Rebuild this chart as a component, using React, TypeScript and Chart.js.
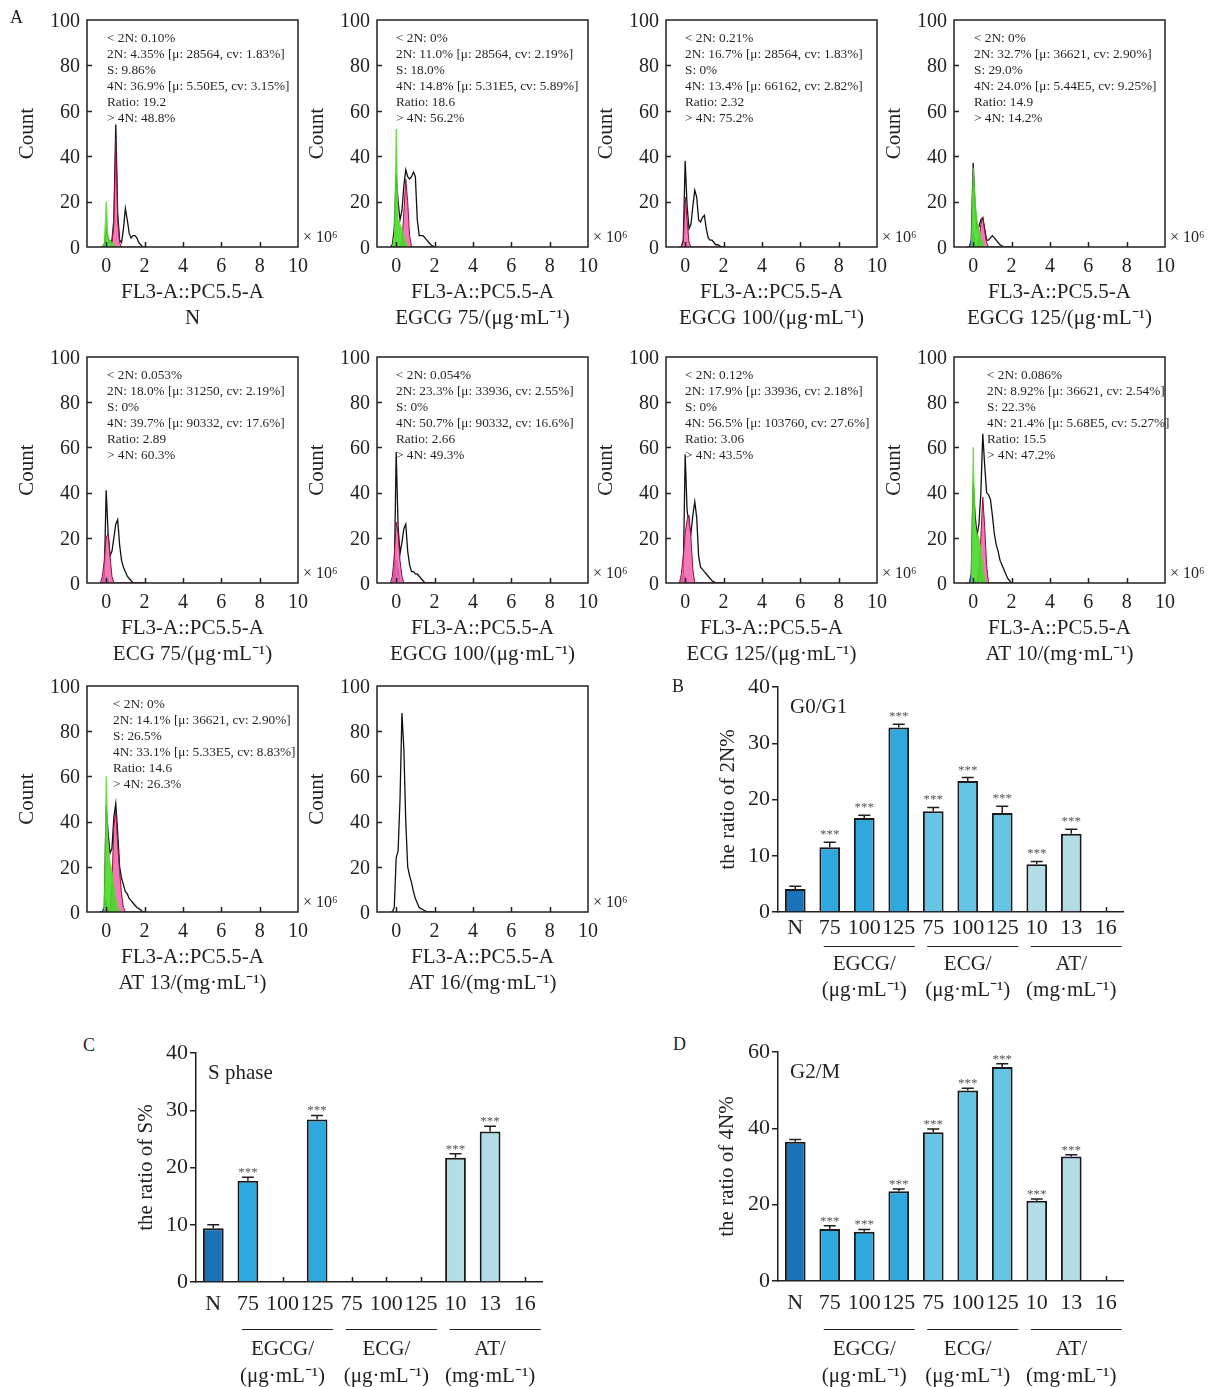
import React, { useEffect, useRef } from "react";
import { Chart, registerables } from "chart.js";

Chart.register(...registerables);

const SERIF = "'Liberation Serif', 'Times New Roman', Times, serif";
const INK = "#231f20";

// ---------------- histogram data (x in 10^6 units) ----------------
const HIST_BINS = [-0.3, -0.2, -0.1, 0, 0.1, 0.2, 0.3, 0.4, 0.5, 0.6, 0.7, 0.8, 0.9, 1.0, 1.1, 1.2, 1.3, 1.4, 1.5, 1.6, 1.7, 1.8, 1.9, 2.0];
const HIST_X_TICKS = [0, 2, 4, 6, 8, 10];
const HIST_Y_TICKS = [0, 20, 40, 60, 80, 100];
const HIST_X_TITLE = "FL3-A::PC5.5-A";

const N_TOTAL = [0, 0, 1, 7, 4, 2, 3, 12, 54, 15, 3, 2, 8, 17, 12, 6, 4, 5, 5, 4, 2, 1, 0, 0];
const N_GREEN = [0, 0, 2, 20, 4, 3, 2, 1, 0, 0, 0, 0, 0, 0, 0, 0, 0, 0, 0, 0, 0, 0, 0, 0];
const N_PINK = [0, 0, 0, 0, 0, 0, 2, 10, 48, 12, 2, 0, 0, 0, 0, 0, 0, 0, 0, 0, 0, 0, 0, 0];
const N_STATS = ["< 2N: 0.10%", "2N: 4.35% [μ: 28564, cv: 1.83%]", "S: 9.86%", "4N: 36.9% [μ: 5.50E5, cv: 3.15%]", "Ratio: 19.2", "> 4N: 48.8%"];

const EGCG75_TOTAL = [0, 1, 8, 32, 20, 12, 16, 27, 34, 31, 30, 31, 33, 31, 12, 5, 5, 5, 4, 3, 2, 1, 0.5, 0];
const EGCG75_GREEN = [0, 0, 5, 52, 12, 10, 8, 5, 2, 0, 0, 0, 0, 0, 0, 0, 0, 0, 0, 0, 0, 0, 0, 0];
const EGCG75_PINK = [0, 0, 0, 0, 0, 0, 2, 15, 30, 20, 5, 0, 0, 0, 0, 0, 0, 0, 0, 0, 0, 0, 0, 0];
const EGCG75_STATS = ["< 2N: 0%", "2N: 11.0% [μ: 28564, cv: 2.19%]", "S: 18.0%", "4N: 14.8% [μ: 5.31E5, cv: 5.89%]", "Ratio: 18.6", "> 4N: 56.2%"];

const EGCG100_TOTAL = [0, 0, 3, 38, 18, 8, 10, 18, 25, 22, 12, 11, 13, 14, 8, 4, 3, 3, 2, 1, 1, 0.5, 0, 0];
const EGCG100_PINK = [0, 0, 2, 22, 12, 2, 0, 0, 0, 0, 0, 0, 0, 0, 0, 0, 0, 0, 0, 0, 0, 0, 0, 0];
const EGCG100_STATS = ["< 2N: 0.21%", "2N: 16.7% [μ: 28564, cv: 1.83%]", "S: 0%", "4N: 13.4% [μ: 66162, cv: 2.82%]", "Ratio: 2.32", "> 4N: 75.2%"];

const EGCG125_TOTAL = [0, 0, 3, 37, 18, 8, 9, 12, 13, 8, 3, 3, 4, 5, 4, 3, 2, 1, 0.5, 0, 0, 0, 0, 0];
const EGCG125_GREEN = [0, 0, 0, 35, 20, 12, 8, 4, 2, 0, 0, 0, 0, 0, 0, 0, 0, 0, 0, 0, 0, 0, 0, 0];
const EGCG125_PINK = [0, 0, 0, 0, 0, 0, 3, 10, 13, 7, 2, 0, 0, 0, 0, 0, 0, 0, 0, 0, 0, 0, 0, 0];
const EGCG125_BLUE = [0, 0, 3, 6, 0, 0, 0, 0, 0, 0, 0, 0, 0, 0, 0, 0, 0, 0, 0, 0, 0, 0, 0, 0];
const EGCG125_STATS = ["< 2N: 0%", "2N: 32.7% [μ: 36621, cv: 2.90%]", "S: 29.0%", "4N: 24.0% [μ: 5.44E5, cv: 9.25%]", "Ratio: 14.9", "> 4N: 14.2%"];

const ECG75_TOTAL = [0, 0, 3, 41, 22, 12, 14, 20, 26, 28, 17, 10, 7, 5, 3, 2, 1, 0, 0, 0, 0, 0, 0, 0];
const ECG75_PINK = [0, 3, 10, 20, 22, 12, 3, 0, 0, 0, 0, 0, 0, 0, 0, 0, 0, 0, 0, 0, 0, 0, 0, 0];
const ECG75_BLUE = [0, 0, 1, 3, 1, 0, 0, 0, 0, 0, 0, 0, 0, 0, 0, 0, 0, 0, 0, 0, 0, 0, 0, 0];
const ECG75_STATS = ["< 2N: 0.053%", "2N: 18.0% [μ: 31250, cv: 2.19%]", "S: 0%", "4N: 39.7% [μ: 90332, cv: 17.6%]", "Ratio: 2.89", "> 4N: 60.3%"];

const EGCG100B_TOTAL = [0, 0, 3, 58, 25, 13, 18, 24, 26, 14, 8, 5, 5, 4, 4, 3, 2, 1, 0, 0, 0, 0, 0, 0];
const EGCG100B_PINK = [0, 3, 12, 27, 22, 10, 3, 0, 0, 0, 0, 0, 0, 0, 0, 0, 0, 0, 0, 0, 0, 0, 0, 0];
const EGCG100B_BLUE = [0, 0, 5, 10, 6, 0, 0, 0, 0, 0, 0, 0, 0, 0, 0, 0, 0, 0, 0, 0, 0, 0, 0, 0];
const EGCG100B_STATS = ["< 2N: 0.054%", "2N: 23.3% [μ: 33936, cv: 2.55%]", "S: 0%", "4N: 50.7% [μ: 90332, cv: 16.6%]", "Ratio: 2.66", "> 4N: 49.3%"];

const ECG125_TOTAL = [0, 0, 3, 57, 32, 26, 22, 30, 36, 29, 12, 7, 6, 5, 4, 3, 2, 1, 0.5, 0, 0, 0, 0, 0];
const ECG125_PINK = [0, 4, 12, 22, 28, 30, 20, 6, 0, 0, 0, 0, 0, 0, 0, 0, 0, 0, 0, 0, 0, 0, 0, 0];
const ECG125_BLUE = [0, 0, 0, 3, 0, 0, 0, 0, 0, 0, 0, 0, 0, 0, 0, 0, 0, 0, 0, 0, 0, 0, 0, 0];
const ECG125_STATS = ["< 2N: 0.12%", "2N: 17.9% [μ: 33936, cv: 2.18%]", "S: 0%", "4N: 56.5% [μ: 103760, cv: 27.6%]", "Ratio: 3.06", "> 4N: 43.5%"];

const AT10_TOTAL = [0, 0, 4, 44, 30, 21, 26, 40, 66, 52, 40, 39, 37, 30, 22, 17, 14, 10, 8, 6, 4, 2, 1, 0];
const AT10_GREEN = [0, 0, 0, 60, 25, 22, 20, 15, 8, 2, 0, 0, 0, 0, 0, 0, 0, 0, 0, 0, 0, 0, 0, 0];
const AT10_PINK = [0, 0, 0, 0, 0, 0, 5, 20, 38, 25, 8, 0, 0, 0, 0, 0, 0, 0, 0, 0, 0, 0, 0, 0];
const AT10_BLUE = [0, 0, 3, 2, 0, 0, 0, 0, 0, 0, 0, 0, 0, 0, 0, 0, 0, 0, 0, 0, 0, 0, 0, 0];
const AT10_STATS = ["< 2N: 0.086%", "2N: 8.92% [μ: 36621, cv: 2.54%]", "S: 22.3%", "4N: 21.4% [μ: 5.68E5, cv: 5.27%]", "Ratio: 15.5", "> 4N: 47.2%"];

const AT13_TOTAL = [0, 0, 2, 47, 35, 26, 28, 42, 48, 35, 20, 15, 12, 9, 8, 6, 5, 4, 3, 2, 1.5, 1, 0, 0];
const AT13_GREEN = [0, 0, 0, 60, 30, 22, 18, 12, 6, 2, 0, 0, 0, 0, 0, 0, 0, 0, 0, 0, 0, 0, 0, 0];
const AT13_PINK = [0, 0, 0, 0, 0, 2, 12, 38, 45, 30, 18, 8, 2, 0, 0, 0, 0, 0, 0, 0, 0, 0, 0, 0];
const AT13_BLUE = [0, 0, 2, 5, 0, 0, 0, 0, 0, 0, 0, 0, 0, 0, 0, 0, 0, 0, 0, 0, 0, 0, 0, 0];
const AT13_STATS = ["< 2N: 0%", "2N: 14.1% [μ: 36621, cv: 2.90%]", "S: 26.5%", "4N: 33.1% [μ: 5.33E5, cv: 8.83%]", "Ratio: 14.6", "> 4N: 26.3%"];

const AT16_TOTAL = [0, 0, 2, 24, 27, 50, 88, 72, 40, 20, 16, 13, 9, 6, 4, 2, 1.5, 1, 0.5, 0, 0, 0, 0, 0];

const HIST_PANELS = [
  { subtitle: "N", total: N_TOTAL, green: N_GREEN, pink: N_PINK, blue: null, stats: N_STATS },
  { subtitle: "EGCG 75/(μg·mL⁻¹)", total: EGCG75_TOTAL, green: EGCG75_GREEN, pink: EGCG75_PINK, blue: null, stats: EGCG75_STATS },
  { subtitle: "EGCG 100/(μg·mL⁻¹)", total: EGCG100_TOTAL, green: null, pink: EGCG100_PINK, blue: null, stats: EGCG100_STATS },
  { subtitle: "EGCG 125/(μg·mL⁻¹)", total: EGCG125_TOTAL, green: EGCG125_GREEN, pink: EGCG125_PINK, blue: EGCG125_BLUE, stats: EGCG125_STATS },
  { subtitle: "ECG 75/(μg·mL⁻¹)", total: ECG75_TOTAL, green: null, pink: ECG75_PINK, blue: ECG75_BLUE, stats: ECG75_STATS },
  { subtitle: "EGCG 100/(μg·mL⁻¹)", total: EGCG100B_TOTAL, green: null, pink: EGCG100B_PINK, blue: EGCG100B_BLUE, stats: EGCG100B_STATS },
  { subtitle: "ECG 125/(μg·mL⁻¹)", total: ECG125_TOTAL, green: null, pink: ECG125_PINK, blue: ECG125_BLUE, stats: ECG125_STATS },
  { subtitle: "AT 10/(mg·mL⁻¹)", total: AT10_TOTAL, green: AT10_GREEN, pink: AT10_PINK, blue: AT10_BLUE, stats: AT10_STATS },
  { subtitle: "AT 13/(mg·mL⁻¹)", total: AT13_TOTAL, green: AT13_GREEN, pink: AT13_PINK, blue: AT13_BLUE, stats: AT13_STATS },
  { subtitle: "AT 16/(mg·mL⁻¹)", total: AT16_TOTAL, green: null, pink: null, blue: null, stats: [] },
];

// ---------------- bar chart data ----------------
const CATEGORIES = ["N", "75", "100", "125", "75", "100", "125", "10", "13", "16"];
const G0G1_MEAN = [4.1, 11.5, 16.7, 32.8, 17.9, 23.3, 17.6, 8.5, 13.9, 0];
const G0G1_ERR = [0.5, 0.9, 0.5, 0.6, 0.7, 0.6, 1.2, 0.5, 0.8, 0];
const G0G1_SIG = [0, 1, 1, 1, 1, 1, 1, 1, 1, 0];
const S_MEAN = [9.4, 17.7, 0, 28.4, 0, 0, 0, 21.7, 26.3, 0];
const S_ERR = [0.6, 0.6, 0, 0.7, 0, 0, 0, 0.7, 0.9, 0];
const S_SIG = [0, 1, 0, 1, 0, 0, 0, 1, 1, 0];
const G2M_MEAN = [36.5, 13.6, 12.9, 23.5, 39.0, 49.9, 56.1, 21.0, 32.6, 0];
const G2M_ERR = [0.6, 0.9, 0.6, 0.6, 0.8, 0.6, 0.8, 0.5, 0.5, 0];
const G2M_SIG = [0, 1, 1, 1, 1, 1, 1, 1, 1, 0];
const GROUP_NAMES = ["EGCG/", "ECG/", "AT/"];
const GROUP_UNITS = ["(μg·mL⁻¹)", "(μg·mL⁻¹)", "(mg·mL⁻¹)"];
const GROUP_FIRST = [1, 4, 7];
const GROUP_LAST = [3, 6, 9];

// ---------------- styles / layout ----------------
const BAR_FILLS = ["#1a73b9", "#2fa8e0", "#2fa8e0", "#2fa8e0", "#66c4e5", "#66c4e5", "#66c4e5", "#b2dde7", "#b2dde7", "#b2dde7"];
const HIST_BOX_W = 211;
const HIST_LAYOUT = [
  { left: 87, top: 20, h: 227, dx: 20 },
  { left: 377, top: 20, h: 227, dx: 19 },
  { left: 666, top: 20, h: 227, dx: 19 },
  { left: 954, top: 20, h: 227, dx: 20 },
  { left: 87, top: 357, h: 226, dx: 20 },
  { left: 377, top: 357, h: 226, dx: 19 },
  { left: 666, top: 357, h: 226, dx: 19 },
  { left: 954, top: 357, h: 226, dx: 33 },
  { left: 87, top: 686, h: 226, dx: 26 },
  { left: 377, top: 686, h: 226, dx: 0 },
];
const HIST_Y_W = 72;
const HIST_PAD_TOP = 14;
const HIST_PAD_RIGHT = 50;
const HIST_X_H = 85;

const BAR_SPECS = [
  { key: "B", mean: G0G1_MEAN, err: G0G1_ERR, sig: G0G1_SIG, yMax: 40, yStep: 10, yTitle: "the ratio of 2N%", phase: "G0/G1", starDy: 4,
    left: 700, top: 670, width: 440, height: 340, padLeft: 15.5, padTop: 17, padRight: 17, yWidth: 62.5, xHeight: 98, labelPad: 3, lineDy: 34, g1Dy: 52, g2Dy: 78 },
  { key: "C", mean: S_MEAN, err: S_ERR, sig: S_SIG, yMax: 40, yStep: 10, yTitle: "the ratio of S%", phase: "S phase", starDy: 1,
    left: 120, top: 1035, width: 440, height: 352, padLeft: 13.5, padTop: 18, padRight: 18, yWidth: 62.5, xHeight: 105, labelPad: 9, lineDy: 47, g1Dy: 67, g2Dy: 94 },
  { key: "D", mean: G2M_MEAN, err: G2M_ERR, sig: G2M_SIG, yMax: 60, yStep: 20, yTitle: "the ratio of 4N%", phase: "G2/M", starDy: 1,
    left: 700, top: 1035, width: 440, height: 352, padLeft: 14.5, padTop: 17, padRight: 17, yWidth: 63.5, xHeight: 106, labelPad: 9, lineDy: 48, g1Dy: 68, g2Dy: 95 },
];

const LETTERS = [
  { t: "A", left: 10, top: 6 },
  { t: "B", left: 672, top: 675 },
  { t: "C", left: 83, top: 1034 },
  { t: "D", left: 673, top: 1033 },
];

// ---------------- histogram chart ----------------
function makeHistDecor(lines: string[], dx: number) {
  return {
    id: "histDecor",
    afterDraw(chart: any) {
      const { ctx, chartArea: a, scales } = chart;
      ctx.save();
      ctx.strokeStyle = INK;
      ctx.lineWidth = 1.5;
      ctx.strokeRect(a.left, a.top, a.right - a.left, a.bottom - a.top);
      ctx.beginPath();
      HIST_Y_TICKS.slice(1, -1).forEach((v) => {
        const y = Math.round(scales.y.getPixelForValue(v)) + 0.5;
        ctx.moveTo(a.left, y);
        ctx.lineTo(a.left + 5, y);
      });
      HIST_X_TICKS.slice(0, -1).forEach((v) => {
        const x = Math.round(scales.x.getPixelForValue(v)) + 0.5;
        ctx.moveTo(x, a.bottom);
        ctx.lineTo(x, a.bottom - 5);
      });
      ctx.stroke();
      ctx.fillStyle = INK;
      ctx.textAlign = "left";
      ctx.textBaseline = "middle";
      ctx.font = `13.3px ${SERIF}`;
      lines.forEach((t, i) => ctx.fillText(t, a.left + dx, a.top + 19 + i * 16));
      ctx.font = `16px ${SERIF}`;
      ctx.fillText("× 10⁶", a.right + 5, a.bottom - 9);
      ctx.restore();
    },
  };
}

function histConfig(p: any, lay: any) {
  const pts = (arr: number[]) => HIST_BINS.map((x, i) => ({ x, y: arr[i] }));
  const datasets: any[] = [];
  if (p.green) datasets.push({ data: pts(p.green), borderColor: "#5fd83a", borderWidth: 0.8, backgroundColor: "rgba(70,218,40,0.9)", fill: "origin", pointRadius: 0, tension: 0 });
  if (p.pink) datasets.push({ data: pts(p.pink), borderColor: "#8e1238", borderWidth: 1, backgroundColor: "rgba(240,96,172,0.85)", fill: "origin", pointRadius: 0, tension: 0 });
  if (p.blue) datasets.push({ data: pts(p.blue), borderColor: "#2a2fd0", borderWidth: 1, backgroundColor: "rgba(110,70,230,0.75)", fill: "origin", pointRadius: 0, tension: 0 });
  datasets.push({ data: pts(p.total), borderColor: "#111", borderWidth: 1.3, fill: false, pointRadius: 0, tension: 0 });
  return {
    type: "line",
    data: { datasets },
    options: {
      responsive: false,
      animation: false,
      devicePixelRatio: 1,
      layout: { padding: { left: 0, top: HIST_PAD_TOP, right: HIST_PAD_RIGHT, bottom: 0 } },
      plugins: { legend: { display: false }, tooltip: { enabled: false } },
      scales: {
        x: {
          type: "linear",
          min: -1,
          max: 10,
          afterBuildTicks: (s: any) => { s.ticks = HIST_X_TICKS.map((v) => ({ value: v })); },
          afterFit: (s: any) => { s.height = HIST_X_H; s.paddingLeft = 0; s.paddingRight = 0; },
          grid: { display: false, drawTicks: false },
          border: { display: false },
          ticks: { font: { family: SERIF, size: 20 }, color: INK, padding: 8, maxRotation: 0, autoSkip: false },
          title: { display: true, text: [HIST_X_TITLE, p.subtitle], font: { family: SERIF, size: 21, lineHeight: 1.24 }, color: INK, padding: 0 },
        },
        y: {
          min: 0,
          max: 100,
          afterBuildTicks: (s: any) => { s.ticks = HIST_Y_TICKS.map((v) => ({ value: v })); },
          afterFit: (s: any) => { s.width = HIST_Y_W; s.paddingTop = 0; s.paddingBottom = 0; },
          grid: { display: false, drawTicks: false },
          border: { display: false },
          ticks: { font: { family: SERIF, size: 20 }, color: INK, padding: 7, labelOffset: 1.5 },
          title: { display: true, text: "Count", font: { family: SERIF, size: 21 }, color: INK, padding: 0 },
        },
      },
    },
    plugins: [makeHistDecor(p.stats, lay.dx)],
  };
}

// ---------------- bar chart ----------------
function makeBarDecor(spec: any) {
  return {
    id: "barDecor",
    beforeDatasetsDraw(chart: any) {
      const { ctx, chartArea: a, scales } = chart;
      ctx.save();
      ctx.strokeStyle = INK;
      ctx.lineWidth = 1.5;
      ctx.beginPath();
      CATEGORIES.forEach((_, i) => {
        const x = Math.round(scales.x.getPixelForValue(i)) + 0.5;
        ctx.moveTo(x, a.bottom);
        ctx.lineTo(x, a.bottom - 5);
      });
      ctx.stroke();
      ctx.restore();
    },
    afterDatasetsDraw(chart: any) {
      const { ctx, scales } = chart;
      ctx.save();
      ctx.strokeStyle = INK;
      ctx.lineWidth = 1.5;
      spec.mean.forEach((v: number, i: number) => {
        if (!(v > 0)) return;
        const x = scales.x.getPixelForValue(i);
        const yv = scales.y.getPixelForValue(v);
        const ye = scales.y.getPixelForValue(v + spec.err[i]);
        ctx.beginPath();
        ctx.moveTo(x, yv);
        ctx.lineTo(x, ye);
        ctx.moveTo(x - 6, ye);
        ctx.lineTo(x + 6, ye);
        ctx.stroke();
        if (spec.sig[i]) {
          ctx.fillStyle = "#555";
          ctx.font = `13px ${SERIF}`;
          ctx.textAlign = "center";
          ctx.textBaseline = "alphabetic";
          ctx.fillText("***", x, ye - spec.starDy);
        }
      });
      ctx.restore();
    },
    afterDraw(chart: any) {
      const { ctx, chartArea: a, scales } = chart;
      ctx.save();
      ctx.fillStyle = INK;
      ctx.strokeStyle = INK;
      ctx.font = `21px ${SERIF}`;
      ctx.textAlign = "left";
      ctx.textBaseline = "middle";
      ctx.fillText(spec.phase, a.left + 12, a.top + 20);
      ctx.lineWidth = 1.2;
      ctx.textAlign = "center";
      GROUP_NAMES.forEach((name, g) => {
        const x1 = scales.x.getPixelForValue(GROUP_FIRST[g]) - 6;
        const x2 = scales.x.getPixelForValue(GROUP_LAST[g]) + 16;
        const xm = scales.x.getPixelForValue((GROUP_FIRST[g] + GROUP_LAST[g]) / 2);
        const y = Math.round(a.bottom + spec.lineDy) + 0.5;
        ctx.beginPath();
        ctx.moveTo(x1, y);
        ctx.lineTo(x2, y);
        ctx.stroke();
        ctx.fillText(name, xm, a.bottom + spec.g1Dy);
        ctx.fillText(GROUP_UNITS[g], xm, a.bottom + spec.g2Dy);
      });
      ctx.restore();
    },
  };
}

function barConfig(spec: any) {
  return {
    type: "bar",
    data: {
      labels: CATEGORIES,
      datasets: [
        {
          data: spec.mean.map((v: number) => (v > 0 ? v : null)),
          backgroundColor: BAR_FILLS,
          borderColor: "#1a1a1a",
          borderWidth: 2,
          barPercentage: 0.6,
          categoryPercentage: 1,
        },
      ],
    },
    options: {
      responsive: false,
      animation: false,
      devicePixelRatio: 1,
      layout: { padding: { left: spec.padLeft, top: spec.padTop, right: spec.padRight, bottom: 0 } },
      plugins: { legend: { display: false }, tooltip: { enabled: false } },
      scales: {
        x: {
          offset: true,
          grid: { display: false, drawTicks: false },
          border: { display: true, color: INK, width: 1.5 },
          ticks: { autoSkip: false, maxRotation: 0, minRotation: 0, padding: spec.labelPad, font: { family: SERIF, size: 22 }, color: INK },
          afterFit: (s: any) => { s.height = spec.xHeight; },
        },
        y: {
          min: 0,
          max: spec.yMax,
          ticks: { stepSize: spec.yStep, padding: 2, font: { family: SERIF, size: 22 }, color: INK },
          grid: { display: true, drawOnChartArea: false, drawTicks: true, tickLength: 6, color: INK, lineWidth: 1.5 },
          border: { display: true, color: INK, width: 1.5 },
          title: { display: true, text: spec.yTitle, font: { family: SERIF, size: 21 }, color: INK, padding: 0 },
          afterFit: (s: any) => { s.width = spec.yWidth; },
        },
      },
    },
    plugins: [makeBarDecor(spec)],
  };
}

// ---------------- components ----------------
function ChartBox({ make, left, top, width, height }: any) {
  const ref = useRef<HTMLCanvasElement | null>(null);
  useEffect(() => {
    if (!ref.current) return;
    const chart = new Chart(ref.current, make());
    return () => chart.destroy();
  }, []);
  return (
    <canvas
      ref={ref}
      width={width}
      height={height}
      style={{ position: "absolute", left, top, width, height }}
    />
  );
}

export default function App() {
  return (
    <div style={{ position: "absolute", left: 0, top: 0, width: 1216, height: 1387, background: "#fff", overflow: "hidden" }}>
      {HIST_PANELS.map((p, i) => {
        const lay = HIST_LAYOUT[i];
        return (
          <ChartBox
            key={"h" + i}
            make={() => histConfig(p, lay)}
            left={lay.left - HIST_Y_W}
            top={lay.top - HIST_PAD_TOP}
            width={HIST_Y_W + HIST_BOX_W + HIST_PAD_RIGHT}
            height={HIST_PAD_TOP + lay.h + HIST_X_H}
          />
        );
      })}
      {BAR_SPECS.map((s) => (
        <ChartBox key={s.key} make={() => barConfig(s)} left={s.left} top={s.top} width={s.width} height={s.height} />
      ))}
      {LETTERS.map((l) => (
        <div
          key={l.t}
          style={{ position: "absolute", left: l.left, top: l.top, fontFamily: SERIF, fontSize: 18, lineHeight: "22px", color: INK }}
        >
          {l.t}
        </div>
      ))}
    </div>
  );
}
